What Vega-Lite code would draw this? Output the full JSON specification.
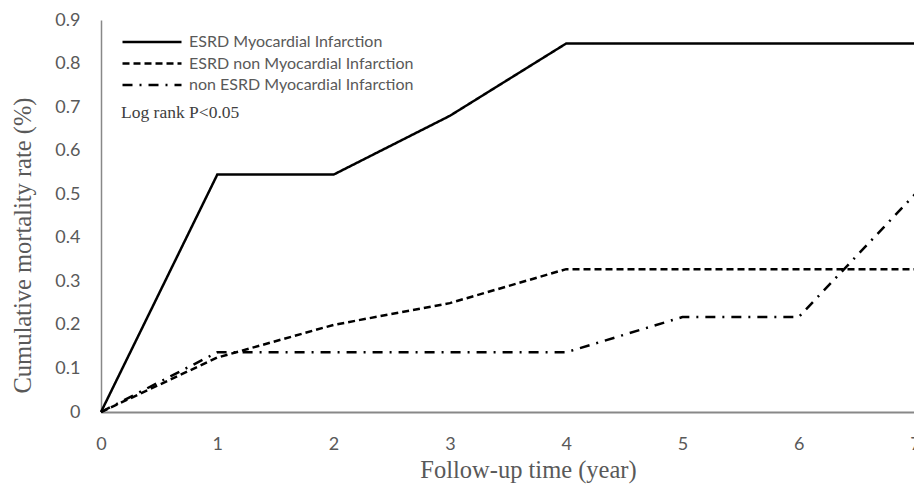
{
  "$schema": "https://vega.github.io/schema/vega-lite/v6.json",
  "autosize": "none",
  "padding": {"left": 101, "top": 20, "right": 0, "bottom": 76},
  "width": 814,
  "height": 392,
  "background": "white",
  "config": {"view": {"stroke": null}},
  "layer": [
    {
      "data": {"values": [
        {"group": "ESRD Myocardial Infarction", "year": 0, "rate": 0},
        {"group": "ESRD Myocardial Infarction", "year": 1, "rate": 0.545},
        {"group": "ESRD Myocardial Infarction", "year": 2, "rate": 0.545},
        {"group": "ESRD Myocardial Infarction", "year": 3, "rate": 0.68},
        {"group": "ESRD Myocardial Infarction", "year": 4, "rate": 0.846},
        {"group": "ESRD Myocardial Infarction", "year": 5, "rate": 0.846},
        {"group": "ESRD Myocardial Infarction", "year": 6, "rate": 0.846},
        {"group": "ESRD Myocardial Infarction", "year": 7, "rate": 0.846},
        {"group": "ESRD non Myocardial Infarction", "year": 0, "rate": 0},
        {"group": "ESRD non Myocardial Infarction", "year": 1, "rate": 0.125},
        {"group": "ESRD non Myocardial Infarction", "year": 2, "rate": 0.2},
        {"group": "ESRD non Myocardial Infarction", "year": 3, "rate": 0.25},
        {"group": "ESRD non Myocardial Infarction", "year": 4, "rate": 0.328},
        {"group": "ESRD non Myocardial Infarction", "year": 5, "rate": 0.328},
        {"group": "ESRD non Myocardial Infarction", "year": 6, "rate": 0.328},
        {"group": "ESRD non Myocardial Infarction", "year": 7, "rate": 0.328},
        {"group": "non ESRD Myocardial Infarction", "year": 0, "rate": 0},
        {"group": "non ESRD Myocardial Infarction", "year": 1, "rate": 0.137},
        {"group": "non ESRD Myocardial Infarction", "year": 2, "rate": 0.137},
        {"group": "non ESRD Myocardial Infarction", "year": 3, "rate": 0.137},
        {"group": "non ESRD Myocardial Infarction", "year": 4, "rate": 0.137},
        {"group": "non ESRD Myocardial Infarction", "year": 5, "rate": 0.218},
        {"group": "non ESRD Myocardial Infarction", "year": 6, "rate": 0.218},
        {"group": "non ESRD Myocardial Infarction", "year": 7, "rate": 0.5}
      ]},
      "mark": {"type": "line", "color": "black", "strokeWidth": 2.5},
      "encoding": {
        "x": {"field": "year", "type": "quantitative",
          "scale": {"domain": [0, 7], "nice": false, "zero": true},
          "axis": {"title": "Follow-up time (year)", "values": [0,1,2,3,4,5,6,7], "format": "d", "grid": false, "ticks": false,
            "domainColor": "#888888", "domainWidth": 2,
            "labelFont": "Lato", "labelFontSize": 18, "labelColor": "#595959", "labelPadding": 23, "labelFlush": false, "labelOverlap": false, "labelBound": false,
            "titleFont": "Liberation Serif", "titleFontSize": 24.5, "titleFontWeight": "normal", "titleColor": "#595959",
            "titleBaseline": "alphabetic", "titleY": 65, "titleX": 427}},
        "y": {"field": "rate", "type": "quantitative",
          "scale": {"domain": [0, 0.9], "nice": false},
          "axis": {"title": "Cumulative mortality rate (%)", "values": [0,0.1,0.2,0.3,0.4,0.5,0.6,0.7,0.8,0.9], "grid": false, "ticks": false,
            "labelExpr": "datum.value == 0 ? '0' : format(datum.value, '.1f')", "labelOverlap": false,
            "domainColor": "#888888", "domainWidth": 1.5,
            "labelFont": "Lato", "labelFontSize": 18, "labelColor": "#595959", "labelPadding": 21,
            "titleFont": "Liberation Serif", "titleFontSize": 24.5, "titleFontWeight": "normal", "titleColor": "#595959",
            "titleBaseline": "alphabetic", "titleX": -71, "titleY": 225}},
        "strokeDash": {"field": "group", "type": "nominal",
          "scale": {"domain": ["ESRD Myocardial Infarction", "ESRD non Myocardial Infarction", "non ESRD Myocardial Infarction"],
                    "range": [[1, 0], [7, 4], [10, 7, 2, 7]]},
          "legend": {"title": null, "orient": "none", "legendX": 43, "legendY": 14, "padding": 0,
            "symbolType": "M-5.9,0L5.9,0", "symbolSize": 100, "symbolStrokeColor": "black", "symbolStrokeWidth": 2.5,
            "labelOffset": 29, "labelFont": "Lato", "labelFontSize": 16, "labelColor": "#595959", "rowPadding": 5.5, "labelLimit": 400}}
      }
    },
    {
      "data": {"values": [{"label": "Log rank P<0.05"}]},
      "mark": {"type": "text", "align": "left", "baseline": "middle", "font": "Liberation Serif", "fontSize": 17.5, "fontWeight": "normal", "fill": "#404040"},
      "encoding": {
        "text": {"field": "label"},
        "x": {"datum": 0.172, "type": "quantitative"},
        "y": {"datum": 0.686, "type": "quantitative"}
      }
    }
  ]
}
